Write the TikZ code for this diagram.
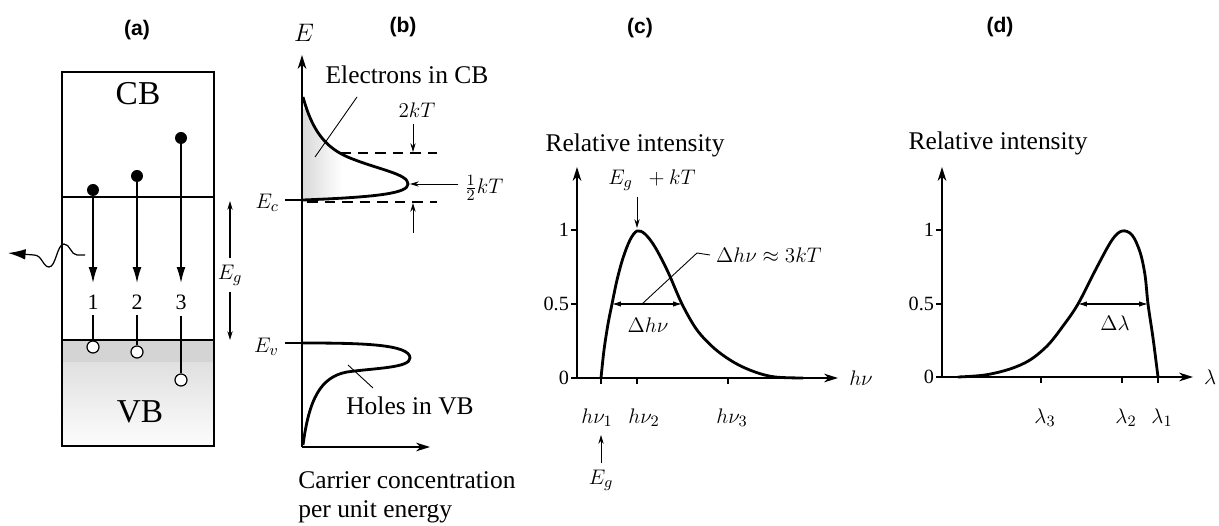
\documentclass[tikz,border=0pt]{standalone}
\usepackage{fontspec}
\setmainfont{Liberation Serif}
\newfontfamily\panelfont{Liberation Sans}
\usetikzlibrary{arrows.meta}

\begin{document}
\begin{tikzpicture}[x=0.02cm,y=-0.02cm,
  font=\fontsize{12.5}{15}\selectfont,
  txt/.style={font=\fontsize{14.5}{17}\selectfont},
  axis/.style={line width=0.8pt,-{Stealth[length=8pt,width=5pt]}},
  curve/.style={line width=1.6pt},
  band/.style={line width=1.1pt},
  tick/.style={line width=0.6pt},
  ticklabel/.style={font=\fontsize{11.5}{13}\selectfont},
  panel/.style={font=\panelfont\bfseries\fontsize{12}{14}\selectfont},
  electron/.style={circle,fill=black,inner sep=0pt,minimum size=0.24cm},
  hole/.style={circle,draw,fill=white,line width=0.7pt,inner sep=0pt,minimum size=0.24cm},
  drop/.style={line width=0.8pt,-{Latex[length=9pt,width=5pt]}},
  pointer/.style={line width=0.5pt},
  smallarrow/.style={line width=0.5pt,-{Stealth[length=5pt,width=3pt]}},
  spread/.style={line width=0.6pt,{Latex[length=5pt,width=3pt]}-{Latex[length=5pt,width=3pt]}}]

\useasboundingbox (0,0) rectangle (1219,526);

% (a) band diagram
\node[panel] (la) at (137,30) {(a)};
\fill[black!17] (62,340) rectangle (214,363);
\shade[top color=black!12, bottom color=black!1] (62,363) rectangle (214,446);
\draw[band] (62,72) rectangle (214,446);
\draw[line width=1.5pt] (62,197) -- (214,197);
\draw[line width=1.5pt] (62,340) -- (214,340);
\node[font=\fontsize{19}{22}\selectfont] (cb) at (138,94) {CB};
\node[font=\fontsize{19}{22}\selectfont] (vb) at (140,412) {VB};
\foreach \i/\x/\ye/\yh in {1/93/190/347, 2/137/176/352, 3/181/138/380} {
  \node[electron] (e\i) at (\x,\ye) {};
  \coordinate (t\i) at (\x,283);
  \node (n\i) at (\x,302) {\i};
  \node[hole] (h\i) at (\x,\yh) {};
  \draw[drop] (e\i.center) -- (t\i);
  \draw[line width=0.8pt] (n\i.south) -- (h\i.north);
}
\coordinate (wstart) at (85,255);
\coordinate (photon) at (8,253);
\draw[line width=0.7pt,-{Latex[length=10pt,width=6pt]}] (wstart) -- (77,255)
  .. controls (71,255) and (70,244) .. (64,244)
  .. controls (57,244) and (56,267) .. (49,267)
  .. controls (43,267) and (42,255) .. (34,255) -- (photon);
\node (eg) at (230,275) {$E_g$};
\coordinate (egtop) at (230,201);
\coordinate (egbot) at (230,340);
\draw[smallarrow,line width=0.7pt] (eg.north) -- (egtop);
\draw[smallarrow,line width=0.7pt] (eg.south) -- (egbot);

% (b) carrier concentration
\node[panel] (lb) at (403,27) {(b)};
\coordinate (ob) at (302,447);
\coordinate (eaxis) at (302,55);
\coordinate (caxis) at (430,447);
\begin{scope}
  \clip (303,97) .. controls (312,130) and (325,148) .. (350,158)
    .. controls (380,170) and (408,174) .. (408,184) .. controls (408,193) and (380,197) .. (303,200) -- cycle;
  \shade[left color=black!15, right color=white] (302,110) rectangle (342,200);
\end{scope}
\draw[axis] (ob) -- (eaxis);
\draw[axis] (ob) -- (caxis);
\node[font=\fontsize{14}{16}\selectfont] (elab) at (304,33) {$E$};
\draw[curve] (303,97) .. controls (312,130) and (325,148) .. (350,158)
  .. controls (380,170) and (408,174) .. (408,184) .. controls (408,193) and (380,197) .. (303,200);
\draw[curve] (302,343) .. controls (360,343) and (410,344) .. (410,358)
  .. controls (410,368) and (375,368) .. (347,372) .. controls (320,377) and (309,400) .. (303,445);
\draw[dashed,dash pattern=on 6pt off 4pt,line width=0.7pt] (340,153) -- (437,153);
\draw[dashed,dash pattern=on 6pt off 4pt,line width=0.7pt] (307,202) -- (437,202);
\node[txt] (ecb) at (407,75) {Electrons in CB};
\coordinate (ptra) at (357,97);
\coordinate (ptrb) at (315,157);
\draw[pointer] (ptra) -- (ptrb);
\node (twokt) at (417,110) {$2kT$};
\coordinate (d2a) at (413,152);
\draw[smallarrow] (twokt.south -| d2a) -- (d2a);
\coordinate (d2b) at (413,203);
\coordinate (d2c) at (413,233);
\draw[smallarrow] (d2c) -- (d2b);
\node (halfkt) at (484,188) {$\frac{1}{2}kT$};
\coordinate (peakb) at (410,184);
\draw[smallarrow] (halfkt.west |- peakb) -- (peakb);
\node[anchor=east] (ec) at (285,203) {$E_c$};
\coordinate (ectick) at (302,200);
\draw[tick] (ec.east |- ectick) -- (ectick);
\node[anchor=east] (ev) at (285,347) {$E_v$};
\coordinate (evtick) at (302,343);
\draw[tick] (ev.east |- evtick) -- (evtick);
\node[txt] (hvb) at (410,406) {Holes in VB};
\coordinate (ptrc) at (348,365);
\coordinate (ptrd) at (373,388);
\draw[pointer] (ptrc) -- (ptrd);
\node[txt,anchor=base west,inner sep=0pt] (carrier1) at (298,488) {Carrier concentration};
\node[txt,anchor=base west,inner sep=0pt] (carrier2) at (298,517) {per unit energy};

% (c) spectrum vs photon energy
\node[panel] (lc) at (640,28) {(c)};
\node[txt] (ric) at (635,145) {Relative intensity};
\coordinate (oc) at (577,378);
\coordinate (yc) at (577,167);
\coordinate (xc) at (838,378);
\draw[axis] (oc) -- (yc);
\draw[axis] (oc) -- (xc);
\node (hnu) at (861,378) {$h\nu$};
\foreach \y/\t [count=\k] in {230/1, 304/0.5, 378/0} {
  \draw[tick] (571,\y) -- (577,\y);
  \node[ticklabel,anchor=east,inner sep=1pt] (cy\k) at (571,\y) {\t};
}
\foreach \x/\dx/\k in {601/-4/1, 637/7/2, 728/4/3} {
  \draw[tick] (\x,378) -- (\x,384);
  \node[anchor=base] (cx\k) at (\x+\dx,423) {$h\nu_{\k}$};
}
\draw[curve] plot[smooth,tension=0.55] coordinates {(601,378) (604,350) (608,324) (612,304)
  (617,280) (623,258) (630,240) (637,231) (645,234) (655,247) (668,272) (682,304) (697,330)
  (715,349) (735,363) (755,372) (775,377) (803,378)};
\coordinate (lc1) at (612,304);
\coordinate (lc2) at (682,304);
\draw[spread] (lc1) -- (lc2);
\node (dhnu) at (648,325) {$\Delta h\nu$};
\node[anchor=west] (dhnu3) at (710,255) {$\Delta h\nu \approx 3kT$};
\coordinate (pc) at (642,304);
\draw[pointer] (pc) -- (697,253) -- (dhnu3.west);
\node (egkt) at (652,180) {$E_g\ \ + kT$};
\coordinate (peakc) at (637,228);
\draw[smallarrow] (egkt.south -| peakc) -- (peakc);
\node[anchor=base] (egc) at (601,484) {$E_g$};
\coordinate (egtip) at (601,435);
\draw[smallarrow] (egc.north) -- (egtip);

% (d) spectrum vs wavelength
\node[panel] (ld) at (1000,27) {(d)};
\node[txt] (rid) at (998,143) {Relative intensity};
\coordinate (od) at (942,377);
\coordinate (yd) at (942,167);
\coordinate (xd) at (1193,377);
\draw[axis] (od) -- (yd);
\draw[axis] (od) -- (xd);
\node (lam) at (1210,377) {$\lambda$};
\foreach \y/\t [count=\k] in {230/1, 304/0.5, 377/0} {
  \draw[tick] (936,\y) -- (942,\y);
  \node[ticklabel,anchor=east,inner sep=1pt] (dy\k) at (936,\y) {\t};
}
\foreach \x/\k in {1158/1, 1122/2, 1041/3} {
  \draw[tick] (\x,377) -- (\x,383);
  \node[anchor=base] (dx\k) at (\x+4,423) {$\lambda_{\k}$};
}
\draw[curve] plot[smooth,tension=0.55] coordinates {(958,377) (985,375) (1010,369) (1030,360)
  (1048,345) (1063,326) (1078,304) (1097,267) (1112,240) (1122,231) (1132,235) (1140,252)
  (1145,275) (1148,304) (1153,338) (1158,377)};
\coordinate (ld1) at (1078,304);
\coordinate (ld2) at (1148,304);
\draw[spread] (ld1) -- (ld2);
\node (dlam) at (1115,323) {$\Delta\lambda$};
\end{tikzpicture}
\end{document}
